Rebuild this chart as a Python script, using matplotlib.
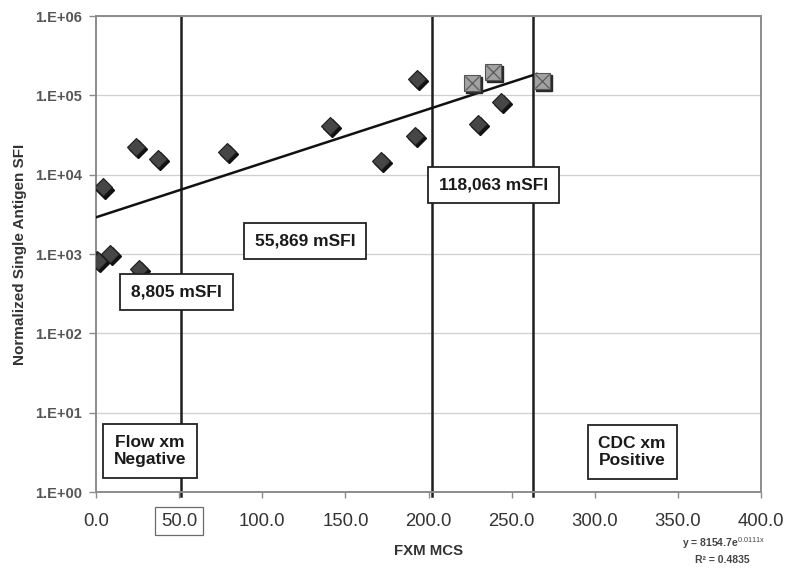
import matplotlib
matplotlib.use("Agg")
import matplotlib.pyplot as plt
import matplotlib.transforms as mtransforms
import numpy as np

plt.rcParams["font.family"] = ["Liberation Sans", "DejaVu Sans"]
plt.rcParams["mathtext.fontset"] = "custom"
plt.rcParams["mathtext.rm"] = "Liberation Sans"

# FXM MCS vs normalized single antigen SFI (diamonds)
fxm_mcs = [0.5, 1.2, 8.4, 25.9, 4.2, 24.0, 37.3, 78.8, 140.8, 171.4, 193.0, 191.9, 229.8, 243.6]
sfi = [840, 820, 1000, 645, 6900, 22400, 15700, 19300, 40800, 14900, 160000, 30700, 43500, 82200]

# CDC positive cases (grey squares)
cdc_mcs = [226.2, 238.8, 268.3]
cdc_sfi = [143000, 197000, 151000]

# trendline end points as drawn
trend_x = [0, 265]
trend_y = [2900, 186000]

# threshold lines
thresholds = [51, 202, 263]

x_ticks = [0, 50, 100, 150, 200, 250, 300, 350, 400]
x_tick_labels = ["0.0", "50.0", "100.0", "150.0", "200.0", "250.0", "300.0", "350.0", "400.0"]
y_ticks = [1, 10, 100, 1000, 10000, 100000, 1000000]
y_tick_labels = ["1.E+00", "1.E+01", "1.E+02", "1.E+03", "1.E+04", "1.E+05", "1.E+06"]

box_labels = ["8,805 mSFI", "55,869 mSFI", "118,063 mSFI", "Flow xm\nNegative", "CDC xm\nPositive"]
box_pos = [(48.5, 330), (126, 1460), (239, 7400), (32.5, 3.3), (322.5, 3.2)]

fig = plt.figure(figsize=(7.91, 5.71), dpi=100)
ax = fig.add_axes([96 / 791, 1 - 492 / 571, (761 - 96) / 791, (492 - 16) / 571])
ax.set_yscale("log")
ax.set_xlim(0, 400)
ax.set_ylim(1, 1e6)

ax.grid(axis="y", color="#cfcfcf", linewidth=0.9)
ax.set_axisbelow(True)
for sp in ax.spines.values():
    sp.set_color("#8c8c8c")
    sp.set_linewidth(1.4)

trans = mtransforms.blended_transform_factory(ax.transData, ax.transAxes)
for t in thresholds:
    ax.plot([t, t], [-0.008, 1], transform=trans, color="#1e1e1e", linewidth=1.8,
            clip_on=False, zorder=2)

ax.plot(trend_x, trend_y, color="#111111", linewidth=1.8, zorder=3)

shadow = mtransforms.offset_copy(ax.transData, fig=fig, x=1.5, y=-1.5, units="points")
ax.plot(fxm_mcs, sfi, linestyle="none", marker="D", markersize=9, color="#111111",
        transform=shadow, zorder=4)
ax.plot(fxm_mcs, sfi, linestyle="none", marker="D", markersize=9,
        markerfacecolor="#464646", markeredgecolor="#1c1c1c", markeredgewidth=0.8, zorder=5)

ax.plot(cdc_mcs, cdc_sfi, linestyle="none", marker="s", markersize=11.5, color="#2a2a2a",
        transform=shadow, zorder=4)
ax.plot(cdc_mcs, cdc_sfi, linestyle="none", marker="s", markersize=11.5,
        markerfacecolor="#a2a2a2", markeredgecolor="#555555", markeredgewidth=0.8, zorder=5)
ax.plot(cdc_mcs, cdc_sfi, linestyle="none", marker="x", markersize=10.5,
        markeredgecolor="#5a5a5a", markeredgewidth=0.9, zorder=6)

for label, (bx, by) in zip(box_labels, box_pos):
    ax.text(bx, by, label, ha="center", va="center", fontsize=12.5, fontweight="bold",
            color="#1a1a1a", linespacing=1.15, zorder=7,
            bbox=dict(boxstyle="square,pad=0.62", facecolor="white", edgecolor="#222222",
                      linewidth=1.3))

ax.set_xticks(x_ticks)
ax.set_xticklabels(x_tick_labels)
ax.set_yticks(y_ticks)
ax.set_yticklabels(y_tick_labels)
ax.minorticks_off()
ax.tick_params(axis="x", direction="out", length=4, width=1, color="#8c8c8c",
               labelsize=13.3, labelcolor="#333333", pad=11)
ax.tick_params(axis="y", direction="out", length=5, width=1, color="#8c8c8c",
               labelsize=10.5, labelcolor="#555555", pad=5)
for lbl in ax.get_yticklabels():
    lbl.set_fontweight("bold")
boxed = ax.get_xticklabels()[1]
boxed.set_bbox(dict(boxstyle="square,pad=0.3", facecolor="none", edgecolor="#6a6a6a",
                    linewidth=0.9))

ax.set_xlabel("FXM MCS", fontsize=10.8, fontweight="bold", color="#333333", labelpad=10)
ax.set_ylabel("Normalized Single Antigen SFI", fontsize=11, fontweight="bold",
              color="#333333", labelpad=6)

fig.text(723 / 791, 1 - 543 / 571, r"y = 8154.7e$^{\mathrm{0.0111x}}$", ha="center",
         va="center", fontsize=7.5, fontweight="bold", color="#444444")
fig.text(722 / 791, 1 - 560 / 571, "R\u00b2 = 0.4835", ha="center", va="center",
         fontsize=7.5, fontweight="bold", color="#444444")

fig.savefig("out.png", dpi=100)
